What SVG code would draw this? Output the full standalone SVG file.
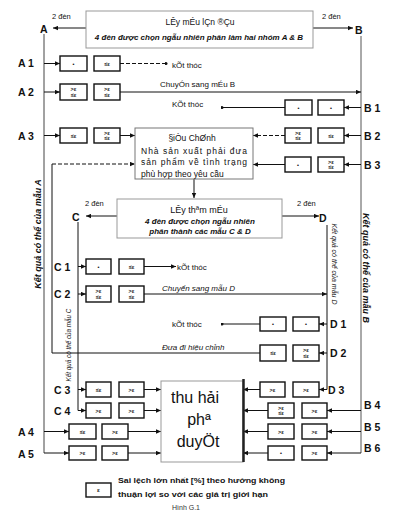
<svg xmlns="http://www.w3.org/2000/svg" width="400" height="517" viewBox="0 0 400 517">
<defs>
<marker id="ah" viewBox="0 0 6 6" refX="6" refY="3" markerWidth="5" markerHeight="5" orient="auto"><path d="M0,0.4 L6,3 L0,5.6 z" fill="#111"/></marker>
<marker id="dot" viewBox="0 0 4 4" refX="2" refY="2" markerWidth="3" markerHeight="3"><circle cx="2" cy="2" r="2" fill="#111"/></marker>
<style>
.bx{fill:#fff;stroke:#111;stroke-width:1.4}
.bt{font:bold 5.5px "Liberation Sans",sans-serif;text-anchor:middle;fill:#111}
.ln{stroke:#111;stroke-width:1;fill:none}
.ar{marker-end:url(#ah)}
.dt{marker-end:url(#dot)}
.dash{stroke-dasharray:4 2}
.lbl{font:bold 10.5px "Liberation Sans",sans-serif;fill:#111}
.t8{font:8px "Liberation Sans",sans-serif;fill:#111}
.ti{font:italic 8px "Liberation Sans",sans-serif;fill:#111}
.tbi{font:bold italic 8px "Liberation Sans",sans-serif;fill:#111;text-anchor:middle}
.t2{font:7.5px "Liberation Sans",sans-serif;fill:#111}
.vt{font:bold italic 9px "Liberation Sans",sans-serif;fill:#111;text-anchor:middle}
.vs{font:italic 6.3px "Liberation Sans",sans-serif;fill:#111;text-anchor:middle}
.gbox{fill:#fff;stroke:#999;stroke-width:1}
</style>
</defs>

<g id="connectors">
<path class="ln ar" d="M86 28 H53"/>
<path class="ln ar" d="M313 28 H353"/>
<path class="ln" style="stroke:#444" d="M44 34 V453"/>
<path class="ln" style="stroke:#555" d="M361 36 V453"/>
<path class="ln ar" d="M44 63.5 H60"/>
<path class="ln ar" d="M44 92 H60"/>
<path class="ln ar" d="M44 135.5 H60"/>
<path class="ln ar" d="M44 431.5 H69"/>
<path class="ln ar" d="M44 453 H69"/>
<path class="ln ar" d="M361 107.5 H344"/>
<path class="ln ar" d="M361 135.5 H344"/>
<path class="ln ar" d="M361 164.5 H344"/>
<path class="ln ar" d="M361 410.5 H327"/>
<path class="ln ar" d="M361 431.5 H327"/>
<path class="ln ar" d="M361 453 H327"/>
<path class="ln dash dt" d="M120 63.5 H166"/>
<path class="ln ar" d="M120 92 H361"/>
<path class="ln ar" d="M120 135.5 H135"/>
<path class="ln dt" d="M285 107.5 H222"/>
<path class="ln ar dash" d="M285 135.5 H253"/>
<path class="ln ar" d="M285 164.5 H253"/>
<path class="ln" d="M260 353 H52 V164"/>
<path class="ln ar dash" d="M52 164 H135"/>
<path class="ln ar" d="M194 179 V198"/>
<path class="ln ar" d="M117 216 H86"/>
<path class="ln ar" d="M282 216 H319"/>
<path class="ln" d="M78 222 V410.5"/>
<path class="ln" d="M327 225 V389.5"/>
<path class="ln ar" d="M78 266.5 H86"/>
<path class="ln ar" d="M78 294 H86"/>
<path class="ln ar" d="M78 389.5 H86"/>
<path class="ln ar" d="M78 410.5 H86"/>
<path class="ln ar" d="M327 324 H319"/>
<path class="ln ar" d="M327 353 H319"/>
<path class="ln ar" d="M327 389.5 H319"/>
<path class="ln ar" d="M144 266.5 H176"/>
<path class="ln ar" d="M144 294 H327"/>
<path class="ln dt" d="M260 324 H222"/>
<path class="ln ar" d="M144 389.5 H161"/>
<path class="ln ar" d="M144 410.5 H161"/>
<path class="ln ar" d="M128 431.5 H161"/>
<path class="ln ar" d="M128 453 H161"/>
<path class="ln ar" d="M260 389.5 H243"/>
<path class="ln ar" d="M268 410.5 H243"/>
<path class="ln ar" d="M268 431.5 H243"/>
<path class="ln ar" d="M268 453 H243"/>
</g>

<g id="sample1">
<rect class="gbox" x="86" y="11" width="227" height="37"/>
<text class="t8" x="200" y="25" text-anchor="middle" style="font-size:8.5px">LÊy mÉu lÇn ®Çu</text>
<text class="tbi" x="199" y="40">4 đèn được chọn ngẫu nhiên phân làm hai nhóm A &amp; B</text>
<text class="t2" x="52" y="19">2 đèn</text>
<text class="t2" x="322" y="19">2 đèn</text>
<text class="lbl" x="40" y="33">A</text>
<text class="lbl" x="355" y="34">B</text>
</g>

<g id="A1">
<text class="lbl" x="18" y="67">A 1</text>
<rect class="bx" x="60" y="56" width="27" height="15"/><text class="bt" x="73.5" y="65.5">•</text>
<rect class="bx" x="94" y="56" width="26" height="15"/><text class="bt" x="107" y="65.5">≤ε</text>
<text class="t8" x="172" y="67.5">kÕt thóc</text>
</g>
<g id="A2">
<text class="lbl" x="18" y="96">A 2</text>
<rect class="bx" x="60" y="84" width="27" height="16"/><text class="bt" x="73.5" y="91"><tspan x="73.5">&gt;ε</tspan><tspan x="73.5" dy="5.5">≤ε</tspan></text>
<rect class="bx" x="94" y="84" width="26" height="16"/><text class="bt" x="107" y="91"><tspan x="107">&gt;ε</tspan><tspan x="107" dy="5.5">≤ε</tspan></text>
<text class="t8" x="160" y="87">ChuyÓn sang mÉu B</text>
</g>
<g id="A3">
<text class="lbl" x="18" y="139.5">A 3</text>
<rect class="bx" x="60" y="128" width="27" height="15"/><text class="bt" x="73.5" y="137.5">≤ε</text>
<rect class="bx" x="94" y="128" width="26" height="15"/><text class="bt" x="107" y="134.5"><tspan x="107">&gt;ε</tspan><tspan x="107" dy="5.5">≤ε</tspan></text>
</g>
<g id="B1">
<text class="lbl" x="364" y="112">B 1</text>
<rect class="bx" x="285" y="100" width="27" height="15"/><text class="bt" x="298.5" y="109.5">•</text>
<rect class="bx" x="318" y="100" width="26" height="15"/><text class="bt" x="331" y="109.5">•</text>
<text class="t8" x="172" y="107">KÕt thóc</text>
</g>
<g id="B2">
<text class="lbl" x="364" y="140">B 2</text>
<rect class="bx" x="285" y="128" width="26" height="15"/><text class="bt" x="298" y="134.5"><tspan x="298">&gt;ε</tspan><tspan x="298" dy="5.5">≤ε</tspan></text>
<rect class="bx" x="318" y="128" width="26" height="15"/><text class="bt" x="331" y="137.5">≤ε</text>
</g>
<g id="B3">
<text class="lbl" x="364" y="169">B 3</text>
<rect class="bx" x="285" y="157" width="26" height="15"/><text class="bt" x="298" y="166.5">•</text>
<rect class="bx" x="318" y="157" width="26" height="15"/><text class="bt" x="331" y="163.5"><tspan x="331">&gt;ε</tspan><tspan x="331" dy="5.5">≤ε</tspan></text>
</g>

<g id="correction">
<rect x="135" y="128" width="118" height="51" fill="#fff" stroke="#777" stroke-width="1"/>
<text class="t8" x="192" y="140.5" text-anchor="middle" style="font-size:8.5px">§iÒu ChØnh</text>
<text class="t8" x="141" y="153.5" textLength="106" lengthAdjust="spacing" style="font-size:8.5px">Nhà sản xuất phải đưa</text>
<text class="t8" x="141" y="165" textLength="106" lengthAdjust="spacing" style="font-size:8.5px">sản phẩm về tình trạng</text>
<text class="t8" x="141" y="176.5" style="font-size:8.5px">phù hợp theo yêu cầu</text>
</g>

<g id="sample2">
<rect class="gbox" x="117" y="199" width="165" height="39"/>
<text class="t8" x="199" y="213" text-anchor="middle" style="font-size:9px">LÊy thªm mÉu</text>
<text class="tbi" x="200" y="224">4 đèn được chọn ngẫu nhiên</text>
<text class="tbi" x="200" y="234">phân thành các mẫu C &amp; D</text>
<text class="t2" x="85" y="206">2 đèn</text>
<text class="t2" x="297" y="206">2 đèn</text>
<text class="lbl" x="72" y="221">C</text>
<text class="lbl" x="319" y="222">D</text>
</g>

<g id="vlabels">
<text class="vt" transform="translate(41 234) rotate(-90)">Kết quả có thể của mẫu A</text>
<text class="vt" transform="translate(363 268) rotate(90)">Kết quả có thể của mẫu B</text>
<text class="vs" transform="translate(71 345) rotate(-90)">Kết quả có thể của mẫu C</text>
<text class="vs" style="font-size:7px" transform="translate(332 264) rotate(90)">Kết quả có thể của mẫu D</text>
</g>

<g id="C1">
<text class="lbl" x="54" y="270.5">C 1</text>
<rect class="bx" x="86" y="259" width="25" height="15"/><text class="bt" x="98.5" y="268.5">•</text>
<rect class="bx" x="119" y="259" width="25" height="15"/><text class="bt" x="131.5" y="268.5">≤ε</text>
<text class="t8" x="177" y="270">kÕt thóc</text>
</g>
<g id="C2">
<text class="lbl" x="54" y="298">C 2</text>
<rect class="bx" x="86" y="286" width="25" height="16"/><text class="bt" x="98.5" y="293"><tspan x="98.5">&gt;ε</tspan><tspan x="98.5" dy="5.5">≤ε</tspan></text>
<rect class="bx" x="119" y="286" width="25" height="16"/><text class="bt" x="131.5" y="293"><tspan x="131.5">&gt;ε</tspan><tspan x="131.5" dy="5.5">≤ε</tspan></text>
<text class="ti" x="162" y="291">Chuyển sang mẫu D</text>
</g>
<g id="D1">
<text class="lbl" x="330" y="328">D 1</text>
<rect class="bx" x="260" y="317" width="26" height="14"/><text class="bt" x="273" y="326">•</text>
<rect class="bx" x="293" y="317" width="26" height="14"/><text class="bt" x="306" y="326">•</text>
<text class="t8" x="172" y="327">kÕt thóc</text>
</g>
<g id="D2">
<text class="lbl" x="330" y="357">D 2</text>
<rect class="bx" x="260" y="345" width="26" height="16"/><text class="bt" x="273" y="355">≤ε</text>
<rect class="bx" x="293" y="345" width="26" height="16"/><text class="bt" x="306" y="352"><tspan x="306">&gt;ε</tspan><tspan x="306" dy="5.5">≤ε</tspan></text>
<text class="ti" x="162" y="350">Đưa đi hiệu chỉnh</text>
</g>
<g id="C3">
<text class="lbl" x="54" y="393.5">C 3</text>
<rect class="bx" x="86" y="382" width="25" height="15"/><text class="bt" x="98.5" y="391.5">≤ε</text>
<rect class="bx" x="119" y="382" width="25" height="15"/><text class="bt" x="131.5" y="391.5">&gt;ε</text>
</g>
<g id="C4">
<text class="lbl" x="54" y="414.5">C 4</text>
<rect class="bx" x="86" y="403" width="25" height="15"/><text class="bt" x="98.5" y="412.5">&gt;ε</text>
<rect class="bx" x="119" y="403" width="25" height="15"/><text class="bt" x="131.5" y="412.5">&gt;ε</text>
</g>
<g id="D3">
<text class="lbl" x="328" y="393.5">D 3</text>
<rect class="bx" x="260" y="382" width="25" height="15"/><text class="bt" x="272.5" y="391.5">&gt;ε</text>
<rect class="bx" x="293" y="382" width="26" height="15"/><text class="bt" x="306" y="391.5">&gt;ε</text>
</g>
<g id="B4">
<text class="lbl" x="364" y="409">B 4</text>
<rect class="bx" x="268" y="403" width="26" height="15"/><text class="bt" x="281" y="409.5"><tspan x="281">&gt;ε</tspan><tspan x="281" dy="5.5">≤ε</tspan></text>
<rect class="bx" x="302" y="403" width="25" height="15"/><text class="bt" x="314.5" y="412.5">&gt;ε</text>
</g>
<g id="B5">
<text class="lbl" x="364" y="431">B 5</text>
<rect class="bx" x="268" y="424" width="26" height="15"/><text class="bt" x="281" y="433.5">&gt;ε</text>
<rect class="bx" x="302" y="424" width="25" height="15"/><text class="bt" x="314.5" y="433.5">&gt;ε</text>
</g>
<g id="B6">
<text class="lbl" x="364" y="452">B 6</text>
<rect class="bx" x="268" y="446" width="26" height="14"/><text class="bt" x="281" y="455">•</text>
<rect class="bx" x="302" y="446" width="25" height="14"/><text class="bt" x="314.5" y="455">&gt;ε</text>
</g>
<g id="A4">
<text class="lbl" x="18" y="436">A 4</text>
<rect class="bx" x="69" y="424" width="27" height="15"/><text class="bt" x="82.5" y="433.5">≤ε</text>
<rect class="bx" x="102" y="424" width="26" height="15"/><text class="bt" x="115" y="433.5">&gt;ε</text>
</g>
<g id="A5">
<text class="lbl" x="18" y="458">A 5</text>
<rect class="bx" x="69" y="446" width="27" height="14"/><text class="bt" x="82.5" y="455">&gt;ε</text>
<rect class="bx" x="102" y="446" width="26" height="14"/><text class="bt" x="115" y="455">&gt;ε</text>
</g>

<g id="approval">
<rect x="161" y="381" width="82" height="81" fill="#fff" stroke="#999" stroke-width="1"/>
<line x1="243.5" y1="379" x2="243.5" y2="462" stroke="#222" stroke-width="2.5"/>
<text x="195" y="403" text-anchor="middle" style="font:16px 'Liberation Sans',sans-serif;fill:#111">thu hải</text>
<text x="199" y="425" text-anchor="middle" style="font:16px 'Liberation Sans',sans-serif;fill:#111">phª</text>
<text x="198" y="447" text-anchor="middle" style="font:16px 'Liberation Sans',sans-serif;fill:#111">duyÖt</text>
</g>

<g id="legend">
<rect class="bx" x="86" y="483" width="25" height="14"/><text class="bt" x="98.5" y="492" style="font-size:6px">ε</text>
<text x="118" y="483" textLength="167" lengthAdjust="spacingAndGlyphs" style="font:bold 8px 'Liberation Sans',sans-serif;fill:#111">Sai lệch lớn nhất [%] theo hướng không</text>
<text x="118" y="497" textLength="150" lengthAdjust="spacingAndGlyphs" style="font:bold 8px 'Liberation Sans',sans-serif;fill:#111">thuận lợi so với các giá trị giới hạn</text>
<text x="172" y="510" style="font:7px 'Liberation Sans',sans-serif;fill:#333">Hình G.1</text>
</g>
</svg>
